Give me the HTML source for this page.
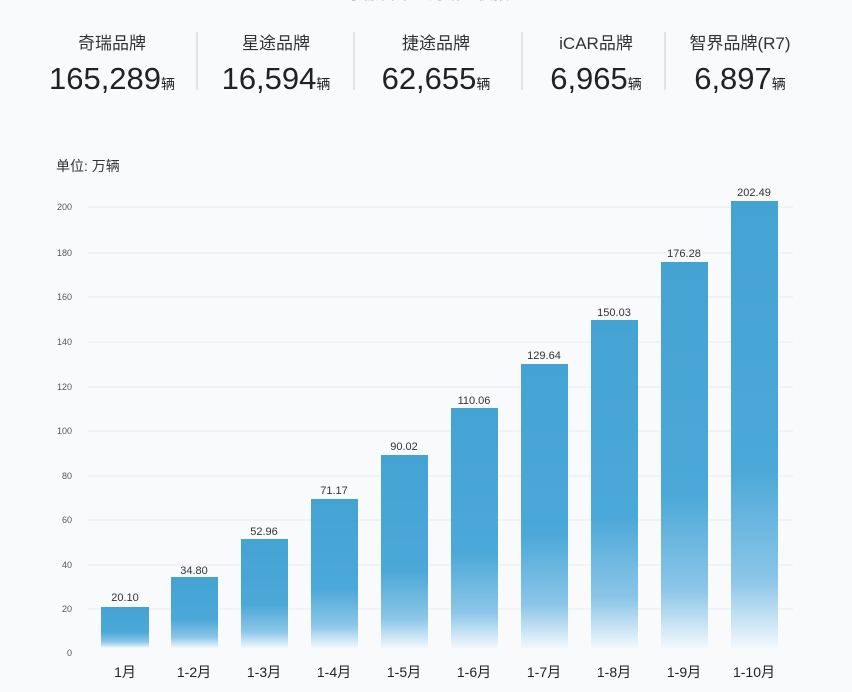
<!DOCTYPE html>
<html><head><meta charset="utf-8"><style>
body{margin:0;background:#f9fafc;}
svg{display:block}
text{font-family:"Liberation Sans","Noto Sans CJK SC",sans-serif;}
</style></head><body>
<svg width="852" height="692" viewBox="0 0 852 692" xmlns="http://www.w3.org/2000/svg">
<defs>
<linearGradient id="g" x1="0" y1="0" x2="0" y2="1">
<stop offset="0" stop-color="#45a3d4"/>
<stop offset="0.6" stop-color="#4ba8d8"/>
<stop offset="0.85" stop-color="#8cc6e8"/>
<stop offset="1" stop-color="#f2f8fd"/>
</linearGradient>
</defs>
<rect width="852" height="692" fill="#f9fafc"/>
<text x="426" y="-1" text-anchor="middle" font-size="16" fill="#aaa">奇瑞集团 10月销量快报</text>
<g fill="#333" text-anchor="middle">
<text x="112" y="49" font-size="17">奇瑞品牌</text>
<text x="276" y="49" font-size="17">星途品牌</text>
<text x="436" y="49" font-size="17">捷途品牌</text>
<text x="596" y="49" font-size="17">iCAR品牌</text>
<text x="740" y="49" font-size="17">智界品牌(R7)</text>
<g font-size="31" fill="#222">
<text x="112" y="89">165,289<tspan font-size="14">辆</tspan></text>
<text x="276" y="89">16,594<tspan font-size="14">辆</tspan></text>
<text x="436" y="89">62,655<tspan font-size="14">辆</tspan></text>
<text x="596" y="89">6,965<tspan font-size="14">辆</tspan></text>
<text x="740" y="89">6,897<tspan font-size="14">辆</tspan></text>
</g>
</g>
<g stroke="#ccc" stroke-width="1">
<line x1="197" y1="32" x2="197" y2="90"/>
<line x1="354" y1="32" x2="354" y2="90"/>
<line x1="522" y1="32" x2="522" y2="90"/>
<line x1="665" y1="32" x2="665" y2="90"/>
</g>
<text x="56" y="171" font-size="14" fill="#333">单位: 万辆</text>
<g stroke="#ececef" stroke-width="1">
<line x1="88" x2="793" y1="207" y2="207"/>
<line x1="88" x2="793" y1="253" y2="253"/>
<line x1="88" x2="793" y1="297" y2="297"/>
<line x1="88" x2="793" y1="342" y2="342"/>
<line x1="88" x2="793" y1="387" y2="387"/>
<line x1="88" x2="793" y1="431" y2="431"/>
<line x1="88" x2="793" y1="476" y2="476"/>
<line x1="88" x2="793" y1="520" y2="520"/>
<line x1="88" x2="793" y1="565" y2="565"/>
<line x1="88" x2="793" y1="609" y2="609"/>
</g>
<g font-size="9" fill="#555" text-anchor="end">
<text x="72" y="210">200</text><text x="72" y="256">180</text><text x="72" y="300">160</text>
<text x="72" y="345">140</text><text x="72" y="390">120</text><text x="72" y="434">100</text>
<text x="72" y="479">80</text><text x="72" y="523">60</text><text x="72" y="568">40</text>
<text x="72" y="612">20</text><text x="72" y="656">0</text>
</g>
<g fill="url(#g)">
<rect x="101" y="607" width="48" height="41"/>
<rect x="171" y="577" width="47" height="71"/>
<rect x="241" y="539" width="47" height="109"/>
<rect x="311" y="499" width="47" height="149"/>
<rect x="381" y="455" width="47" height="193"/>
<rect x="451" y="408" width="47" height="240"/>
<rect x="521" y="364" width="47" height="284"/>
<rect x="591" y="320" width="47" height="328"/>
<rect x="661" y="262" width="47" height="386"/>
<rect x="731" y="201" width="47" height="447"/>
</g>
<g font-size="11" fill="#333" text-anchor="middle">
<text x="125" y="601">20.10</text><text x="194" y="574">34.80</text><text x="264" y="535">52.96</text>
<text x="334" y="494">71.17</text><text x="404" y="450">90.02</text><text x="474" y="404">110.06</text>
<text x="544" y="359">129.64</text><text x="614" y="316">150.03</text><text x="684" y="257">176.28</text>
<text x="754" y="196">202.49</text>
</g>
<g font-size="14" fill="#222" text-anchor="middle">
<text x="125" y="677">1月</text><text x="194" y="677">1-2月</text><text x="264" y="677">1-3月</text>
<text x="334" y="677">1-4月</text><text x="404" y="677">1-5月</text><text x="474" y="677">1-6月</text>
<text x="544" y="677">1-7月</text><text x="614" y="677">1-8月</text><text x="684" y="677">1-9月</text>
<text x="754" y="677">1-10月</text>
</g>
</svg>
</body></html>
